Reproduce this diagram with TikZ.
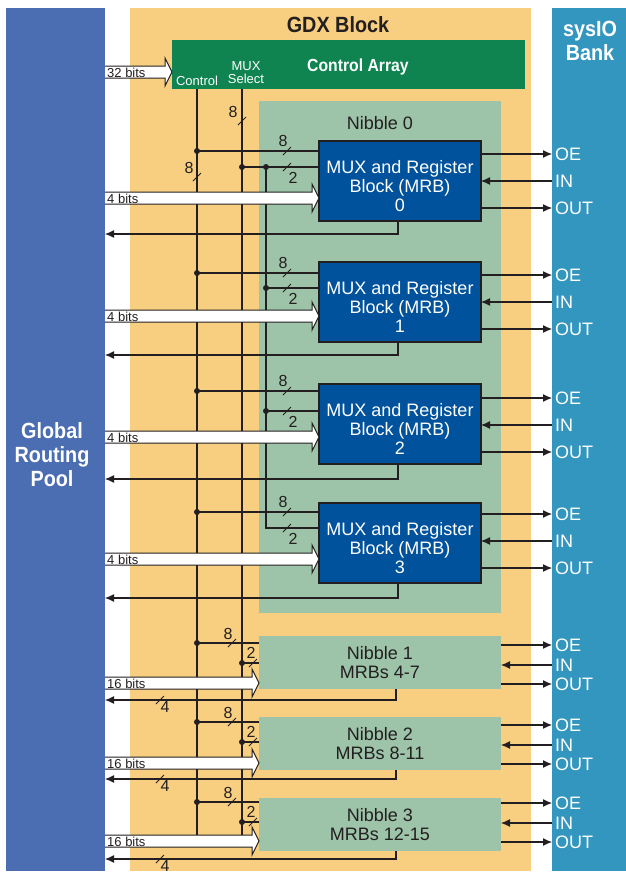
\documentclass[tikz,border=0pt]{standalone}
\usepackage{fontspec}
\setmainfont{Liberation Sans}
\newfontfamily\headfont[FakeStretch=0.9]{Liberation Sans}
\usetikzlibrary{arrows.meta,calc}

\definecolor{poolblue}{HTML}{4B6DB1}
\definecolor{gdxorange}{HTML}{F8CE80}
\definecolor{iobank}{HTML}{3396BE}
\definecolor{ctrlgreen}{HTML}{0F8451}
\definecolor{nibgreen}{HTML}{9DC3A8}
\definecolor{mrbblue}{HTML}{00529C}
\definecolor{ink}{HTML}{231F20}

% bus-width mark: slash at #1, label offset #2, label text #3
\newcommand\buswidth[3]{%
  \draw[tick] ($(#1)+(-4,4)$) -- ($(#1)+(4,-4)$);
  \node[numtxt] at ($(#1)+(#2)$) {#3};}

% wide hollow bus arrow from the routing pool to node #3 at height #2
\newcommand\hollowbus[4]{%
  \coordinate (#1-tail) at (pool.east |- 0,#2);
  \coordinate (#1-tip) at (#3.west |- 0,#2);
  \filldraw[hollow] ($(#1-tail)+(0,-6)$) -- ($(#1-tip)+(-7,-6)$) -- ($(#1-tip)+(-7,-14)$)
    -- (#1-tip) -- ($(#1-tip)+(-7,14)$) -- ($(#1-tip)+(-7,6)$) -- ($(#1-tail)+(0,6)$);
  \node[smalltxt, anchor=base west] (#1-lbl) at ($(#1-tail)+(2,5)$) {#4};}

\begin{document}
\begin{tikzpicture}[x=1pt,y=-1pt,
  panel/.style={anchor=north west, inner sep=0pt, outer sep=0pt},
  wire/.style={draw=ink, line width=1.1pt},
  arr/.style={wire, -{Latex[length=9pt,width=8pt]}},
  hollow/.style={draw=ink, fill=white, line width=1pt, line join=miter},
  tick/.style={draw=ink, line width=0.9pt},
  mrb/.style={panel, draw=ink, line width=1.3pt, fill=mrbblue, minimum width=162pt, minimum height=80pt},
  nibbox/.style={panel, fill=nibgreen, minimum width=242pt, minimum height=53pt},
  headtxt/.style={font=\headfont\bfseries\fontsize{22}{24}\selectfont, inner sep=0pt, align=center},
  bodytxt/.style={font=\fontsize{18}{19}\selectfont, inner sep=0pt, align=center},
  iotxt/.style={bodytxt, text=white, anchor=west},
  smalltxt/.style={font=\fontsize{13}{13}\selectfont, text=ink, inner sep=0pt, align=center},
  numtxt/.style={font=\fontsize{16}{16}\selectfont, text=ink, inner sep=0pt},
  dot/.style={fill=ink}
]
\useasboundingbox (0,0) rectangle (626,873);
\fill[white] (0,0) rectangle (626,873);

% panels
\node[panel, fill=poolblue, minimum width=99pt, minimum height=863pt] (pool) at (6,8) {};
\node[panel, fill=gdxorange, minimum width=401pt, minimum height=863pt] (gdx) at (130,8) {};
\node[panel, fill=iobank, minimum width=74pt, minimum height=863pt] (io) at (552,8) {};
\node[panel, fill=ctrlgreen, minimum width=353pt, minimum height=49pt] (ca) at (172,40) {};
\node[panel, fill=nibgreen, minimum width=242pt, minimum height=512pt] (nib0) at (259,101) {};

% titles
\node[headtxt, text=ink, anchor=base] (gdxtitle) at (338,32) {GDX Block};
\node[headtxt, text=white] (iotitle) at (590,41) {sysIO\\Bank};
\node[headtxt, text=white] (pooltitle) at (52,455) {Global\\Routing\\Pool};
\node[headtxt, text=white, font=\headfont\bfseries\fontsize{17.5}{19}\selectfont, anchor=base] (catitle) at (358,71) {Control Array};
\node[smalltxt, text=white, anchor=base] (ctrllbl) at (197,85) {Control};
\node[smalltxt, text=white] (muxlbl) at (246,72.5) {MUX\\Select};
\node[bodytxt, text=ink] (nib0lbl) at (380,123) {Nibble 0};

% MRB blocks of nibble 0
\foreach \i/\t in {0/141, 1/262, 2/384, 3/503}{
  \node[mrb] (m\i) at (319,\t) {};
  \node[bodytxt, text=white] (m\i-txt) at ($(m\i.center)+(0,5)$) {MUX and Register\\Block (MRB)\\\i};
}
% nibbles 1-3
\foreach \i/\t/\lbl in {1/636/4-7, 2/717/8-11, 3/798/12-15}{
  \node[nibbox] (n\i) at (259,\t) {};
  \node[bodytxt, text=ink] (n\i-txt) at (n\i.center) {Nibble \i\\MRBs \lbl};
}

% control and mux-select buses
\coordinate (cbus) at (ca.south -| 197,0);
\coordinate (mbus) at (ca.south -| 242,0);
\coordinate (ibus) at (266,167);
\draw[wire] (cbus) -- (cbus |- 0,841);
\draw[wire] (mbus) -- (mbus |- 0,841);
\buswidth{242,121}{-9,-9}{8}
\buswidth{197,177}{-8,-9}{8}

% mux-select fan-out inside nibble 0
\draw[wire] (mbus |- ibus) -- (m0.west |- ibus);
\draw[wire] (ibus) -- (ibus |- 0,528) -- (m3.west |- 0,528);
\draw[wire] (ibus |- 0,288) -- (m1.west |- 0,288);
\draw[wire] (ibus |- 0,411) -- (m2.west |- 0,411);
\foreach \p in {(mbus |- ibus), (ibus), (ibus |- 0,288), (ibus |- 0,411)}
  \fill[dot] \p circle (3pt);

% MRB connections
\foreach \i/\c/\m/\a/\r/\o in {0/151/167/198/234/154, 1/273/288/316/355/275, 2/391/411/437/479/398, 3/512/528/559/598/514}{
  \draw[wire] (cbus |- 0,\c) -- (m\i.west |- 0,\c);
  \fill[dot] (cbus |- 0,\c) circle (3pt);
  \buswidth{287,\c}{-4,-10}{8}
  \buswidth{287,\m}{6,11}{2}
  \draw[arr] ($(m\i.south)+(-2,0)$) |- (pool.east |- 0,\r);
  \coordinate (oe\i) at (m\i.east |- 0,\o);
  \coordinate (in\i) at ($(oe\i)+(0,27)$);
  \coordinate (out\i) at ($(oe\i)+(0,54)$);
  \draw[arr] (oe\i) -- (oe\i -| io.west);
  \draw[arr] (in\i -| io.west) -- (in\i);
  \draw[arr] (out\i) -- (out\i -| io.west);
  \node[iotxt] at ($(oe\i -| io.west)+(3,0)$) {OE};
  \node[iotxt] at ($(in\i -| io.west)+(3,0)$) {IN};
  \node[iotxt] at ($(out\i -| io.west)+(3,0)$) {OUT};
  \hollowbus{b\i}{\a}{m\i}{4 bits}
}

% nibble 1-3 connections
\foreach \i/\c/\m/\a/\r/\o in {1/643/663/683/700/645, 2/722/742/763/779/725, 3/802/822/841/859/803}{
  \draw[wire] (cbus |- 0,\c) -- (n\i.west |- 0,\c);
  \draw[wire] (mbus |- 0,\m) -- (n\i.west |- 0,\m);
  \fill[dot] (cbus |- 0,\c) circle (3pt);
  \fill[dot] (mbus |- 0,\m) circle (3pt);
  \buswidth{232,\c}{-4,-9}{8}
  \buswidth{253,\m}{-2,-10}{2}
  \draw[arr] ($(n\i.south)+(16,0)$) |- (pool.east |- 0,\r);
  \buswidth{160,\r}{5,6.5}{4}
  \coordinate (noe\i) at (n\i.east |- 0,\o);
  \coordinate (nin\i) at ($(noe\i)+(0,20)$);
  \coordinate (nout\i) at ($(noe\i)+(0,39)$);
  \draw[arr] (noe\i) -- (noe\i -| io.west);
  \draw[arr] (nin\i -| io.west) -- (nin\i);
  \draw[arr] (nout\i) -- (nout\i -| io.west);
  \node[iotxt] at ($(noe\i -| io.west)+(3,0)$) {OE};
  \node[iotxt] at ($(nin\i -| io.west)+(3,0)$) {IN};
  \node[iotxt] at ($(nout\i -| io.west)+(3,0)$) {OUT};
  \hollowbus{w\i}{\a}{n\i}{16 bits}
}

% 32-bit input to the control array
\hollowbus{c32}{72}{ca}{32 bits}
\end{tikzpicture}
\end{document}
